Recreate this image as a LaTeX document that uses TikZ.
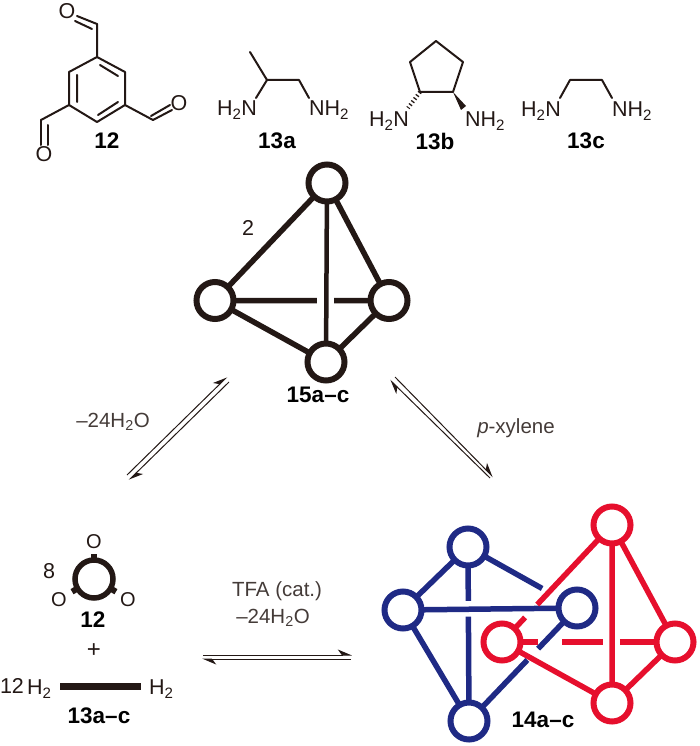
\documentclass[tikz,border=0pt]{standalone}
\usepackage{fontspec}
\setmainfont{Liberation Sans}
\usetikzlibrary{calc,arrows.meta}
\definecolor{ink}{HTML}{231815}
\definecolor{tblue}{HTML}{1F2A85}
\definecolor{tred}{HTML}{E60F2D}
\tikzset{
  x=1pt,y=-1pt,
  bondline/.style={ink,line width=2pt,line cap=round,line join=round},
  atomlabel/.style={inner sep=0pt,text=ink,font=\fontsize{21.5}{24}\selectfont},
  thinlabel/.style={inner sep=0pt,text=ink!85!white,font=\fontsize{20.5}{24}\selectfont},
  boldlabel/.style={inner sep=0pt,text=black,font=\fontsize{22.5}{24}\selectfont\bfseries},
  vertex/.style={circle,draw=#1,line width=6pt,minimum size=37pt,inner sep=0pt,outer sep=0pt},
  edge/.style={#1,line width=5.5pt},
  eqline/.style={ink,line width=1pt},
  eqhead/.style={-{Stealth[harpoon,length=13pt,width=11pt,inset=4pt]}},
}
\newcommand{\subs}[1]{\textsubscript{#1}}
\begin{document}
\begin{tikzpicture}
\useasboundingbox (0,0) rectangle (700,746);
% ---- molecule 12
\coordinate (a1) at (97,57);\coordinate (a2) at (125,72);\coordinate (a3) at (125,105);
\coordinate (a4) at (97,122);\coordinate (a5) at (69,105);\coordinate (a6) at (69,72);
\coordinate (c1) at (97,24);\coordinate (c2) at (41,120);\coordinate (c3) at (153,120);
\node[atomlabel] (o1) at (67,11) {O};
\node[atomlabel] (o2) at (44,154) {O};
\node[atomlabel] (o3) at (179,103) {O};
\draw[bondline] (a1)--(a2)--(a3)--(a4)--(a5)--(a6)--cycle;
\draw[bondline] (100,65)--(118,76) (77,75)--(77,102) (98,115)--(118,102);
\draw[bondline] (a1)--(c1) (a5)--(c2) (a3)--(c3);
\draw[bondline] (c1)--(77,16) (92,29)--(75,21);
\draw[bondline] (c2)--(41,145) (48,125)--(48,145);
\draw[bondline] (c3)--(172,110) (151,116)--(170,105);
\node[boldlabel] (l12) at (107,141) {12};
% ---- 13a
\coordinate (b0) at (250,52);\coordinate (b1) at (267,80);\coordinate (b2) at (299,80);
\node[atomlabel] (n1) at (237,110) {H\subs{2}N};
\node[atomlabel] (n2) at (329,110) {NH\subs{2}};
\draw[bondline] (b0)--(b1)--(b2)--(309,98) (b1)--(256,98);
\node[boldlabel] (l13a) at (277,141) {13a};
% ---- 13b
\coordinate (p1) at (420,92);\coordinate (p2) at (453,92);\coordinate (p3) at (463,62);
\coordinate (p4) at (436,41);\coordinate (p5) at (410,62);
\draw[bondline] (p1)--(p2)--(p3)--(p4)--(p5)--cycle;
\node[atomlabel] (n3) at (389,121) {H\subs{2}N};
\node[atomlabel] (n4) at (485,121) {NH\subs{2}};
\fill[ink] (p2)--(461,110)--(466,106)--cycle;
\draw[ink,line width=4pt,dash pattern=on 1.3pt off 2.5pt] (p1)--(408,108);
\node[boldlabel] (l13b) at (435,141) {13b};
% ---- 13c
\coordinate (q1) at (570,80);\coordinate (q2) at (602,80);
\node[atomlabel] (n5) at (541,111) {H\subs{2}N};
\node[atomlabel] (n6) at (632,111) {NH\subs{2}};
\draw[bondline] (560,98)--(q1)--(q2)--(612,98);
\node[boldlabel] (l13c) at (586,141) {13c};
% ---- tetrahedron 15
\node[vertex=ink] (kt) at (327,183) {};
\node[vertex=ink] (kl) at (215,300.5) {};
\node[vertex=ink] (kr) at (389,300.5) {};
\node[vertex=ink] (kb) at (326,362) {};
\draw[edge=ink] (kt)--(kl) (kt)--(kr) (kl)--(kb) (kr)--(kb);
\draw[ink,line width=4.5pt] (kt)--(kb);
\draw[edge=ink] (kl)--($(kl)!.586!(kr)$) ($(kl)!.684!(kr)$)--(kr);
\node[atomlabel] (two) at (248,228) {2};
\node[boldlabel] (l15) at (318,395) {15a\textendash c};
% ---- equilibria
\coordinate (e1a) at (127,475);\coordinate (e1b) at (227,377);
\coordinate (e1c) at (229,382);\coordinate (e1d) at (129,480);
\draw[eqline,eqhead] (e1a)--(e1b);
\draw[eqline,eqhead] (e1c)--(e1d);
\coordinate (e2a) at (490,478);\coordinate (e2b) at (390,380);
\coordinate (e2c) at (395,377);\coordinate (e2d) at (493,477);
\draw[eqline,eqhead] (e2a)--(e2b);
\draw[eqline,eqhead] (e2c)--(e2d);
\coordinate (e3a) at (203,655);\coordinate (e3b) at (352,655);
\coordinate (e3c) at (351,659);\coordinate (e3d) at (202,659);
\draw[eqline,eqhead] (e3a)--(e3b);
\draw[eqline,eqhead] (e3c)--(e3d);
\node[thinlabel] (w1) at (113,422) {\textendash 24H\subs{2}O};
\node[thinlabel] (xy) at (516,428) {\itshape p\upshape -xylene};
\node[thinlabel] (tfa) at (277,591) {TFA (cat.)};
\node[thinlabel] (w2) at (273,618) {\textendash 24H\subs{2}O};
% ---- lower left
\node[atomlabel] (eight) at (49,571) {8};
\node[circle,draw=ink,line width=5.5pt,minimum size=38pt,inner sep=0pt,outer sep=0pt] (ring) at (94,579) {};
\draw[ink,line width=6pt] (ring.90)--++(0,-6);
\draw[ink,line width=6pt] (ring.210)--++(-5.5,3.2);
\draw[ink,line width=6pt] (ring.330)--++(5.5,3.2);
\node[atomlabel,font=\fontsize{20}{22}\selectfont] (ot) at (94,542) {O};
\node[atomlabel,font=\fontsize{20}{22}\selectfont] (ol) at (59,600) {O};
\node[atomlabel,font=\fontsize{20}{22}\selectfont] (or) at (128,600) {O};
\node[boldlabel] (l12b) at (93,620) {12};
\node[atomlabel,font=\fontsize{24}{26}\selectfont] (plus) at (94,651) {+};
\node[atomlabel] (twelve) at (12,686) {12};
\node[atomlabel,anchor=west] (h2l) at (27,689) {H\subs{2}};
\node[atomlabel,anchor=west] (h2r) at (149,689) {H\subs{2}};
\coordinate (barl) at (60,686);\coordinate (barr) at (141,686);
\draw[ink,line width=7pt] (barl)--(barr);
\node[boldlabel] (l13ac) at (99,716) {13a\textendash c};
% ---- interlocked 14
\node[vertex=tblue] (bt) at (468,547) {};
\node[vertex=tblue] (bl) at (403,610) {};
\node[vertex=tblue] (br) at (577,608) {};
\node[vertex=tblue] (bb) at (469,721) {};
\node[vertex=tred] (rt) at (612,525) {};
\node[vertex=tred] (rl) at (502,642) {};
\node[vertex=tred] (rr) at (675,642) {};
\node[vertex=tred] (rb) at (612,703) {};
\draw[edge=tblue] (bt)--(bl) (bl)--(bb) (bl)--(br);
\draw[edge=tblue] (bt)--($(bt)!.31!(bb)$) ($(bt)!.40!(bb)$)--(bb);
\draw[edge=tblue] (bt)--($(bt)!.68!(br)$) ($(bt)!.83!(br)$)--(br);
\draw[edge=tblue] (br)--($(br)!.36!(bb)$) ($(br)!.46!(bb)$)--(bb);
\draw[edge=tred] (rt)--(rr) (rt)--(rb) (rr)--(rb) (rl)--(rb);
\draw[edge=tred] (rt)--($(rt)!.68!(rl)$) ($(rt)!.79!(rl)$)--(rl);
\draw[edge=tred] (rl)--($(rl)!.208!(rr)$) ($(rl)!.347!(rr)$)--($(rl)!.584!(rr)$) ($(rl)!.682!(rr)$)--(rr);
\node[boldlabel] (l14) at (543,720) {14a\textendash c};
\end{tikzpicture}
\end{document}
